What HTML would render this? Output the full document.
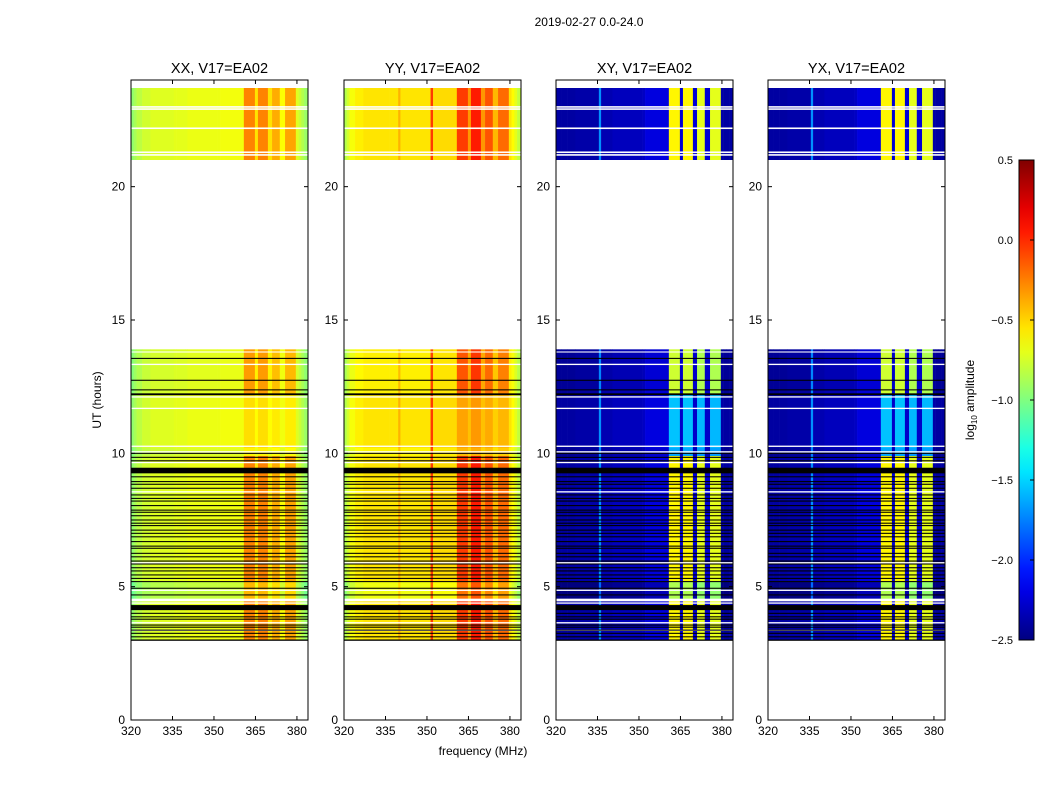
<!DOCTYPE html>
<html><head><meta charset="utf-8">
<style>
body{margin:0;background:#fff;}
svg text{font-family:"Liberation Sans",sans-serif;fill:#000;}
</style></head>
<body>
<svg id="fig" width="1050" height="800" viewBox="0 0 1050 800">
<rect width="1050" height="800" fill="#fff"/>
<text x="589" y="26" font-size="12" text-anchor="middle">2019-02-27 0.0-24.0</text>
<text x="483" y="755" font-size="12" text-anchor="middle">frequency (MHz)</text>
<text transform="translate(101,400) rotate(-90)" font-size="12" text-anchor="middle">UT (hours)</text>
<g id="panels"></g>
<g id="cbar"></g>
</svg>
<script>
// ---- data ----
const bandEdges = [320,321,322,324,327,335.5,336.3,339.6,340.4,351.3,352.2,360.8,364.8,365.9,369.5,371,373.8,375.7,379.6,380.6,381.6,382.6,384];
const baseXX = [-0.95,-0.88,-0.82,-0.76,-0.72,-0.7,-0.7,-0.7,-0.68,-0.68,-0.66,-0.66,-0.66,-0.66,-0.66,-0.66,-0.68,-0.68,-0.72,-0.78,-0.85,-0.92];
const rfiXX  = [0,0,0,0,0,0,0,0,0,0,0,0.4,0.12,0.4,0.12,0.28,0.05,0.32,0,0,0,0];
const baseYY = [-0.85,-0.75,-0.65,-0.58,-0.55,-0.55,-0.55,-0.4,-0.55,-0.05,-0.52,-0.5,-0.5,-0.5,-0.5,-0.5,-0.52,-0.52,-0.55,-0.62,-0.7,-0.8];
const rfiYY  = [0,0,0,0,0,0,0,0,0,0,0,0.45,0.18,0.55,0.18,0.38,0.1,0.33,0,0,0,0];
const baseXY = [-2.4,-2.4,-2.4,-2.4,-2.38,-1.7,-2.35,-2.35,-2.32,-2.3,-2.22,-2.0,-2.3,-2.0,-2.3,-2.0,-2.3,-2.0,-2.38,-2.4,-2.4,-2.4];
const rfiXY  = [0,0,0,0,0,0,0,0,0,0,0,1.4,0.05,1.4,0.05,1.3,0.05,1.3,0,0,0,0];
const baseYX = [-2.4,-2.4,-2.4,-2.4,-2.38,-1.7,-2.35,-2.35,-2.32,-2.3,-2.22,-2.0,-2.3,-2.0,-2.3,-2.0,-2.3,-2.0,-2.38,-2.4,-2.4,-2.4];
const rfiYX  = [0,0,0,0,0,0,0,0,0,0,0,1.4,0.05,1.4,0.05,1.3,0.05,1.3,0,0,0,0];
const segStart    = [3.0,4.5,5.2,9.9,10.2,12.2,21.0];
const segEnd      = [4.5,5.2,9.9,10.2,12.2,13.9,23.7];
const segStrength = [1.0,0.9,1.0,0.3,0.32,0.9,1.0];
const segOffset   = [0,-0.12,0,-0.05,0,-0.03,0];
const flagStart = [13.54,12.72,12.36,12.18,9.98,9.83,9.70,9.25,9.10,8.92,8.82,8.67,8.42,8.29,8.19,8.02,7.85,7.77,7.64,7.48,7.36,7.27,7.10,6.98,6.85,6.67,6.50,6.42,6.23,6.10,5.94,5.83,5.69,5.57,5.42,5.29,5.17,4.92,4.67,4.12,3.98,3.85,3.76,3.54,3.46,3.35,3.23,3.10,2.97];
const flagEnd   = [13.58,12.76,12.40,12.25,10.02,9.87,9.74,9.46,9.14,8.96,8.86,8.71,8.46,8.33,8.23,8.06,7.89,7.81,7.68,7.52,7.40,7.31,7.14,7.02,6.89,6.71,6.54,6.46,6.27,6.14,5.98,5.87,5.73,5.61,5.46,5.33,5.21,4.96,4.71,4.31,4.02,3.89,3.80,3.58,3.50,3.39,3.27,3.14,3.02];
const gapStart = [13.78,13.31,12.09,11.66,10.24,10.03,9.63,8.53,5.87,4.84,4.45,4.36,3.62,3.34,22.96,22.88,22.16,21.26,21.16];
const gapEnd   = [13.82,13.36,12.14,11.71,10.29,10.08,9.68,8.58,5.92,4.89,4.55,4.41,3.67,3.39,23.02,22.94,22.22,21.32,21.22];
const panelTitles = ["XX, V17=EA02","YY, V17=EA02","XY, V17=EA02","YX, V17=EA02"];
const xTicks = [320,335,350,365,380];
const yTicks = [0,5,10,15,20];
const cbTicks = [0.5,0.0,-0.5,-1.0,-1.5,-2.0,-2.5];

const bases = [baseXX,baseYY,baseXY,baseYX];
const rfis = [rfiXX,rfiYY,rfiXY,rfiYX];
const panelLeft = [131,344,556,768];
const PW = 177, PT = 80, PB = 720;
const XMIN = 320, XMAX = 384, YMIN = 0, YMAX = 24, VMIN = -2.5, VMAX = 0.5;
const NS = "http://www.w3.org/2000/svg";

function jet(v){
  let t = (v - VMIN) / (VMAX - VMIN); t = Math.max(0, Math.min(1, t));
  const c = x => Math.round(255 * Math.max(0, Math.min(1, x)));
  return `rgb(${c(1.5-Math.abs(4*t-3))},${c(1.5-Math.abs(4*t-2))},${c(1.5-Math.abs(4*t-1))})`;
}
function mk(tag, attrs, parent){
  const e = document.createElementNS(NS, tag);
  for (const k in attrs) e.setAttribute(k, attrs[k]);
  parent.appendChild(e); return e;
}
const yScale = h => PB - (h - YMIN) / (YMAX - YMIN) * (PB - PT);

const panels = document.getElementById('panels');
for (let p = 0; p < 4; p++) {
  const L = panelLeft[p];
  const xScale = f => L + (f - XMIN) / (XMAX - XMIN) * PW;
  const g = mk('g', {}, panels);
  
  
  for (let s = 0; s < segStart.length; s++) {
    for (let b = 0; b < bases[p].length; b++) {
      const v = bases[p][b] + rfis[p][b] * segStrength[s] + segOffset[s];
      const x0 = xScale(bandEdges[b]), x1 = xScale(bandEdges[b+1]);
      const y0 = yScale(segEnd[s]), y1 = yScale(segStart[s]);
      const r = mk('rect', {x:x0, y:y0, width:x1-x0+0.3, height:y1-y0, fill:jet(v)}, g);
      
      
    }
  }
  for (let i = 0; i < gapStart.length; i++) {
    const r = mk('rect', {x:L, y:yScale(gapEnd[i]), width:PW, height:yScale(gapStart[i])-yScale(gapEnd[i]), fill:'#fff'}, g);
    
    
  }
  for (let i = 0; i < flagStart.length; i++) {
    const r = mk('rect', {x:L, y:yScale(flagEnd[i]), width:PW, height:yScale(flagStart[i])-yScale(flagEnd[i]), fill:'#000'}, g);
    
    
  }
  const fr = mk('rect', {x:L, y:PT, width:PW, height:PB-PT, fill:'none', stroke:'#000', 'stroke-width':1}, g);
  
  
  xTicks.forEach(t => {
    const x = xScale(t);
    mk('line', {x1:x, x2:x, y1:PB, y2:PB-4, stroke:'#000'}, g);
    mk('line', {x1:x, x2:x, y1:PT, y2:PT+4, stroke:'#000'}, g);
    const tx = mk('text', {x:x, y:PB+15, 'font-size':12, 'text-anchor':'middle'}, g);
    tx.textContent = t;
    
    
  });
  yTicks.forEach(t => {
    const y = yScale(t);
    mk('line', {x1:L, x2:L+4, y1:y, y2:y, stroke:'#000'}, g);
    mk('line', {x1:L+PW, x2:L+PW-4, y1:y, y2:y, stroke:'#000'}, g);
    const tx = mk('text', {x:L-6, y:y+4, 'font-size':12, 'text-anchor':'end'}, g);
    tx.textContent = t;
    
    
  });
  const ti = mk('text', {x:L+PW/2, y:73, 'font-size':14.5, 'text-anchor':'middle'}, g);
  ti.textContent = panelTitles[p];
  
  
}

const cb = document.getElementById('cbar');
const CBX = 1019, CBW = 15, CBT = 160, CBB = 640;
const defs = mk('defs', {}, cb);
const grad = mk('linearGradient', {id:'jetg', x1:0, y1:1, x2:0, y2:0}, defs);
for (let i = 0; i <= 20; i++) {
  mk('stop', {offset:(i/20), 'stop-color':jet(VMIN + i/20*(VMAX-VMIN))}, grad);
}
const cbr = mk('rect', {x:CBX, y:CBT, width:CBW, height:CBB-CBT, fill:'url(#jetg)', stroke:'#000', 'stroke-width':1}, cb);


const cbScale = v => CBB - (v - VMIN) / (VMAX - VMIN) * (CBB - CBT);
cbTicks.forEach(t => {
  const y = cbScale(t);
  mk('line', {x1:CBX+CBW, x2:CBX+CBW-4, y1:y, y2:y, stroke:'#000'}, cb);
  const tx = mk('text', {x:CBX-6, y:y+4, 'font-size':11, 'text-anchor':'end'}, cb);
  tx.textContent = (t < 0 ? '\u2212' : '') + Math.abs(t).toFixed(1);
  
  
});
const cbl = mk('text', {transform:'translate(974,400) rotate(-90)', 'font-size':12, 'text-anchor':'middle'}, cb);
cbl.innerHTML = 'log<tspan font-size="8" dy="3">10</tspan><tspan dy="-3"> amplitude</tspan>';


</script>
</body></html>
